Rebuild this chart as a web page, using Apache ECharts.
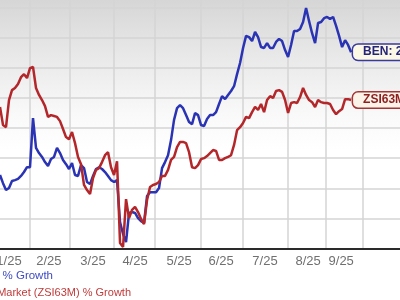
<!DOCTYPE html>
<html><head><meta charset="utf-8">
<script src="https://cdn.jsdelivr.net/npm/echarts@6/dist/echarts.min.js"></script>
<style>html,body{margin:0;padding:0;background:#fff}#c{width:400px;height:300px}</style>
</head><body><div id="c"></div>
<script>
// Month tick labels and their positions (trading-step index units)
const monthLabels = ['1/25','2/25','3/25','4/25','5/25','6/25','7/25','8/25','9/25'];
const labelTicks = [3, 16.3, 31, 45, 59.7, 73.7, 88.3, 102.7, 113.7];
const gridTicks = [10, 23.3, 38, 51.7, 67, 81, 96, 108.7, 121];

// BEN price % growth
const benGrowth = [
 -15.6,-18.3,-20.6,-19.9,-17.6,-17.3,-16.9,-15.9,-14.6,-13.0,
 -13.0,3.3,-6.6,-8.3,-9.6,-11.3,-12.6,-10.3,-9.6,-6.6,
 -8.3,-10.6,-12.0,-13.6,-11.6,-15.6,-15.9,-12.3,-13.3,-17.9,
 -18.6,-15.9,-13.6,-13.0,-13.6,-14.6,-15.9,-17.3,-17.9,-17.3,
 -31.2,-35.2,-37.9,-28.2,-27.9,-28.2,-29.9,-30.9,-31.5,-22.6,
 -21.3,-21.3,-21.3,-19.9,-13.3,-11.3,-9.0,-4.0,2.7,6.6,
 7.6,6.6,4.3,2.0,1.3,5.0,4.3,1.0,0.7,3.0,
 4.3,4.3,5.3,8.0,10.6,9.6,11.0,12.3,13.9,17.9,
 21.6,26.6,30.6,30.2,28.9,31.9,30.2,26.9,26.6,28.2,
 26.6,26.6,28.6,29.6,28.9,25.9,23.6,27.6,32.2,32.2,
 32.9,35.2,39.9,35.5,31.5,28.2,34.9,35.2,36.5,36.9,
 36.2,36.9,33.9,30.6,26.9,29.2,27.6,25.2
];

// Market (ZSI63M) % growth
const marketGrowth = [
 7.0,1.0,0.3,9.3,12.6,13.3,14.6,16.9,17.9,16.6,
 19.9,20.3,13.3,11.0,9.3,7.3,3.7,4.3,4.0,3.7,
 2.3,-0.3,-3.0,-3.7,-1.3,-5.0,-9.6,-12.0,-18.9,-20.6,
 -21.9,-16.6,-13.9,-13.3,-11.3,-9.0,-8.0,-13.0,-15.6,-11.0,
 -38.2,-39.5,-23.6,-29.9,-27.2,-26.2,-27.9,-30.2,-31.9,-23.9,
 -19.6,-18.9,-18.6,-17.9,-15.9,-15.9,-13.9,-10.6,-9.6,-6.3,
 -4.6,-4.6,-5.0,-8.0,-13.0,-13.3,-12.3,-10.3,-10.0,-9.3,
 -8.3,-7.3,-7.6,-10.6,-10.6,-10.0,-9.6,-9.0,-5.6,-0.7,
 0.3,1.7,3.7,3.3,5.3,7.0,6.0,8.0,5.3,9.3,
 10.6,10.0,12.3,12.6,12.0,9.3,5.0,8.3,8.6,8.3,
 10.3,13.3,11.0,9.3,8.6,7.0,9.3,8.6,8.3,8.3,
 8.0,6.0,4.6,5.6,6.3,9.6,9.6,9.3
];

const FONT = '"Liberation Sans", Arial, sans-serif';
const chart = echarts.init(document.getElementById('c'), null, {renderer:'canvas'});

function nearestLabel(v){
  let best = 0, d = Infinity;
  labelTicks.forEach((t,i)=>{ const dd = Math.abs(t - v); if (dd < d){ d = dd; best = i; } });
  return monthLabels[best];
}

chart.setOption({
  animation: false,
  backgroundColor: {
    type:'linear', x:0, y:0, x2:0, y2:1,
    colorStops:[
      {offset:0, color:'#d6d6d6'},
      {offset:0.18, color:'#e8e8e8'},
      {offset:0.38, color:'#f9f9f9'},
      {offset:0.5, color:'#ffffff'},
      {offset:1, color:'#ffffff'}
    ]
  },
  grid: {left:0, right:0, top:-22.5, bottom:51.5, containLabel:false, outerBoundsMode:'none'},
  xAxis: [
    {
      type:'value', min:0, max:133.3, position:'bottom',
      axisLine:{show:true, onZero:false, lineStyle:{color:'#2a2a2a', width:2}},
      axisTick:{show:false},
      splitLine:{show:false},
      axisLabel:{
        customValues: labelTicks,
        formatter: v => nearestLabel(v),
        color:'#707070', fontSize:13, margin:6, fontFamily: FONT
      }
    },
    {
      type:'value', min:0, max:133.3, position:'bottom',
      axisLine:{show:false, onZero:false},
      axisTick:{show:false, customValues: gridTicks},
      axisLabel:{show:false},
      splitLine:{show:true, lineStyle:{color:'#d4d4d4', width:1.5}}
    }
  ],
  yAxis: {
    type:'value', min:-40, max:50, interval:10,
    axisLine:{show:false}, axisTick:{show:false}, axisLabel:{show:false},
    splitLine:{show:true, lineStyle:{color:'#d4d4d4', width:1.5}}
  },
  graphic: [
    {type:'text', right: 347, top: 270, style:{text:'BEN % Growth', fill:'#3f4bc4', font:'11.5px ' + FONT, textAlign:'right'}},
    {type:'text', right: 269, top: 287, style:{text:'Market (ZSI63M) % Growth', fill:'#c03a3a', font:'11px ' + FONT, textAlign:'right'}}
  ],
  series: [
    {
      name:'BEN', type:'line', xAxisIndex:0, z:3,
      data: benGrowth.map((v,i)=>[i,v]),
      symbol:'none', lineStyle:{color:'#2a33b3', width:2.5}, itemStyle:{color:'#2a33b3'},
      endLabel:{
        show:true, distance:2,
        formatter: p => 'BEN: ' + p.value[1].toFixed(2) + '%',
        backgroundColor:'#fcf8e6', borderColor:'#3a3a9c', borderWidth:1.5, borderRadius:5,
        padding:[2,6,1,10], color:'#24247a', fontSize:12, fontWeight:'bold', fontFamily: FONT
      }
    },
    {
      name:'ZSI63M', type:'line', xAxisIndex:0, z:4,
      data: marketGrowth.map((v,i)=>[i,v]),
      symbol:'none', lineStyle:{color:'#b3262a', width:2.5}, itemStyle:{color:'#b3262a'},
      endLabel:{
        show:true, distance:2,
        formatter: p => 'ZSI63M: ' + p.value[1].toFixed(2) + '%',
        backgroundColor:'#fbf2e8', borderColor:'#a53434', borderWidth:1.5, borderRadius:5,
        padding:[2,6,1,10], color:'#8c1e1e', fontSize:12, fontWeight:'bold', fontFamily: FONT
      }
    }
  ]
});
</script>
</body></html>
